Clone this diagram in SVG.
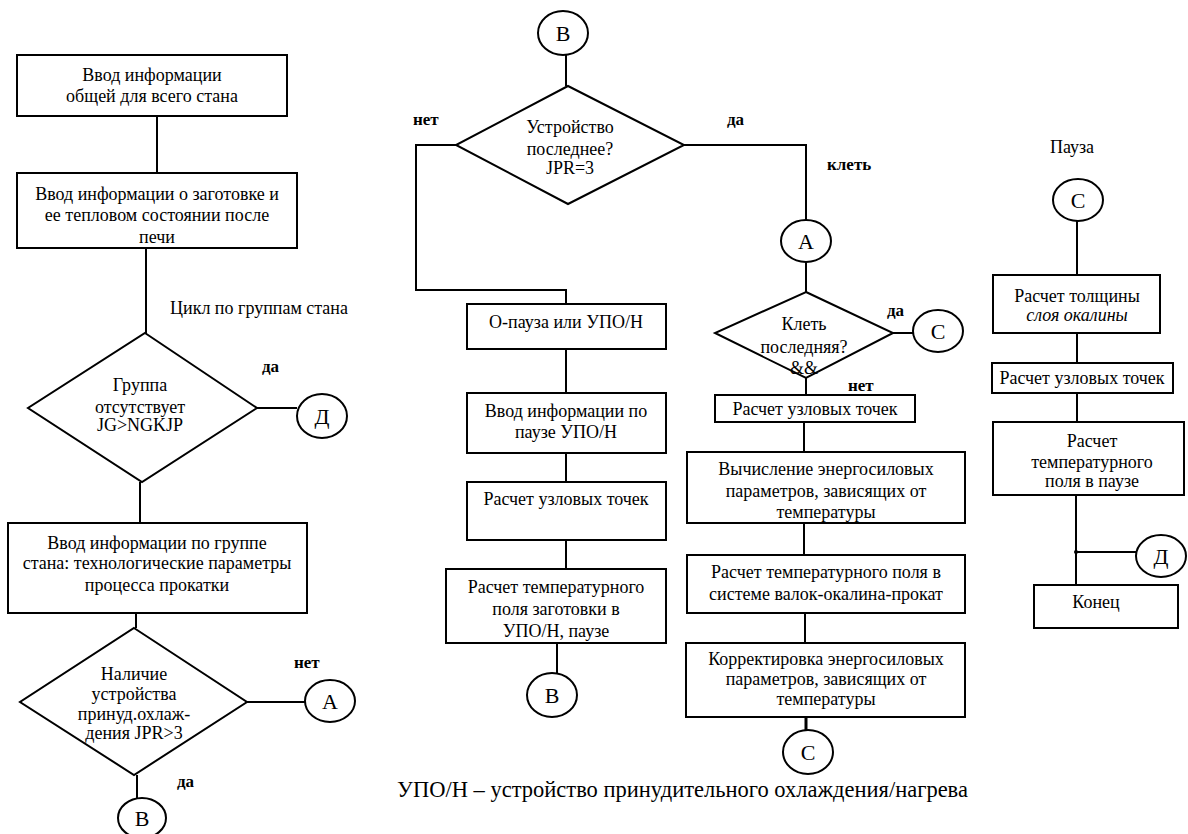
<svg xmlns="http://www.w3.org/2000/svg" width="1188" height="834" viewBox="0 0 1188 834" font-family="'Liberation Serif', 'DejaVu Serif', serif">
<style>
.b{fill:#fff;stroke:#000;stroke-width:2}
.c{fill:none;stroke:#000;stroke-width:2}
text{font-family:'Liberation Serif','DejaVu Serif',serif;fill:#000}
.t{font-size:18px;text-anchor:middle}
.l{font-size:17px;font-weight:bold}
.k{font-size:22px;text-anchor:middle}
</style>
<rect width="1188" height="834" fill="#fff"/>
<g id="connectors" class="c">
<line x1="157" y1="116" x2="157" y2="173"/>
<line x1="146" y1="248" x2="146" y2="333"/>
<line x1="257" y1="408" x2="297" y2="408"/>
<line x1="140" y1="482" x2="140" y2="523"/>
<line x1="136" y1="613" x2="136" y2="628"/>
<line x1="247" y1="702" x2="305" y2="702"/>
<line x1="137" y1="775" x2="137" y2="798"/>
<line x1="566" y1="55" x2="566" y2="86"/>
<polyline points="456,145 416,145 416,290 566,290 566,304"/>
<polyline points="684,145 806,145 806,220"/>
<line x1="806" y1="262" x2="806" y2="292"/>
<line x1="893" y1="333" x2="913" y2="333"/>
<line x1="806" y1="378" x2="806" y2="395"/>
<line x1="804" y1="422" x2="804" y2="452"/>
<line x1="804" y1="523" x2="804" y2="555"/>
<line x1="805" y1="613" x2="805" y2="643"/>
<line x1="806" y1="717" x2="806" y2="730" stroke-width="3"/>
<line x1="566" y1="349" x2="566" y2="393"/>
<line x1="566" y1="453" x2="566" y2="482"/>
<line x1="566" y1="540" x2="566" y2="569"/>
<line x1="557" y1="643" x2="557" y2="673"/>
<line x1="1077" y1="221" x2="1077" y2="275"/>
<line x1="1077" y1="333" x2="1077" y2="363"/>
<line x1="1077" y1="393" x2="1077" y2="422"/>
<line x1="1076" y1="495" x2="1076" y2="585"/>
<line x1="1076" y1="552" x2="1136" y2="552"/>
<circle cx="1076" cy="552" r="2" fill="#000" stroke="none"/>
</g>
<g id="labels">
<text x="170" y="314" style="font-size:18px">Цикл по группам стана</text>
<text class="l" x="262" y="372">да</text>
<text class="l" x="294" y="668">нет</text>
<text class="l" x="177" y="787">да</text>
<text class="l" x="413" y="125">нет</text>
<text class="l" x="727" y="125">да</text>
<text class="l" x="827" y="170">клеть</text>
<text class="l" x="887" y="316">да</text>
<text class="l" x="848" y="391">нет</text>
<text x="1072" y="153" style="font-size:18px;text-anchor:middle">Пауза</text>
<text x="397" y="797" style="font-size:22.5px">УПО/Н – устройство принудительного охлаждения/нагрева</text>
</g>
<g id="n1"><rect class="b" x="17" y="55" width="270" height="61"/>
<text class="t" x="152" y="81">Ввод информации</text><text class="t" x="152" y="102">общей для всего стана</text></g>
<g id="n2"><rect class="b" x="17" y="173" width="280" height="75"/>
<text class="t" x="157" y="200">Ввод информации о заготовке и</text><text class="t" x="157" y="221">ее тепловом состоянии после</text><text class="t" x="157" y="243">печи</text></g>
<g id="d1"><polygon class="b" points="145,333 257,408 142,482 28,408"/>
<text class="t" x="140" y="391">Группа</text><text class="t" x="140" y="413">отсутствует</text><text class="t" x="140" y="431">JG&gt;NGKJP</text></g>
<g id="cD1"><ellipse class="b" cx="322" cy="416" rx="25" ry="22"/><text class="k" x="322" y="424">Д</text></g>
<g id="n3"><rect class="b" x="8" y="523" width="299" height="90"/>
<text class="t" x="157" y="549">Ввод информации по группе</text><text class="t" x="157" y="569">стана: технологические параметры</text><text class="t" x="157" y="591">процесса прокатки</text></g>
<g id="d2"><polygon class="b" points="134,628 247,702 134,775 20,702"/>
<text class="t" x="134" y="680">Наличие</text><text class="t" x="134" y="700">устройства</text><text class="t" x="134" y="720">принуд.охлаж-</text><text class="t" x="134" y="739">дения JPR&gt;3</text></g>
<g id="cA1"><ellipse class="b" cx="330" cy="701" rx="25" ry="21"/><text class="k" x="330" y="709">A</text></g>
<g id="cB1"><ellipse class="b" cx="142" cy="818" rx="24" ry="20"/><text class="k" x="142" y="826">B</text></g>
<g id="cB2"><ellipse class="b" cx="563" cy="33" rx="25" ry="22"/><text class="k" x="563" y="41">B</text></g>
<g id="d3"><polygon class="b" points="568,86 684,145 568,204 456,145"/>
<text class="t" x="570" y="133">Устройство</text><text class="t" x="570" y="155">последнее?</text><text class="t" x="570" y="174">JPR=3</text></g>
<g id="cA2"><ellipse class="b" cx="806" cy="241" rx="25" ry="21"/><text class="k" x="806" y="249">A</text></g>
<g id="d4"><polygon class="b" points="806,292 893,333 806,378 715,333"/>
<text class="t" x="804" y="330">Клеть</text><text class="t" x="804" y="353">последняя?</text><text class="t" x="804" y="374">&amp;&amp;</text></g>
<g id="cC1"><ellipse class="b" cx="938" cy="331" rx="25" ry="21"/><text class="k" x="938" y="339">C</text></g>
<g id="n4"><rect class="b" x="715" y="395" width="200" height="27"/><text class="t" x="815" y="415">Расчет узловых точек</text></g>
<g id="n5"><rect class="b" x="687" y="452" width="278" height="71"/>
<text class="t" x="826" y="475">Вычисление энергосиловых</text><text class="t" x="826" y="497">параметров, зависящих от</text><text class="t" x="826" y="518">температуры</text></g>
<g id="n6"><rect class="b" x="687" y="555" width="278" height="58"/>
<text class="t" x="826" y="578">Расчет температурного поля в</text><text class="t" x="826" y="600">системе валок-окалина-прокат</text></g>
<g id="n7"><rect class="b" x="686" y="643" width="279" height="74"/>
<text class="t" x="826" y="665">Корректировка энергосиловых</text><text class="t" x="826" y="685">параметров, зависящих от</text><text class="t" x="826" y="705">температуры</text></g>
<g id="cC2"><ellipse class="b" cx="808" cy="752" rx="25" ry="22"/><text class="k" x="808" y="760">C</text></g>
<g id="n8"><rect class="b" x="467" y="304" width="199" height="45"/><text class="t" x="566" y="328">О-пауза или УПО/Н</text></g>
<g id="n9"><rect class="b" x="467" y="393" width="199" height="60"/>
<text class="t" x="566" y="417">Ввод информации по</text><text class="t" x="566" y="438">паузе УПО/Н</text></g>
<g id="n10"><rect class="b" x="467" y="482" width="199" height="58"/><text class="t" x="566" y="505">Расчет узловых точек</text></g>
<g id="n11"><rect class="b" x="446" y="569" width="220" height="74"/>
<text class="t" x="556" y="593">Расчет температурного</text><text class="t" x="556" y="615">поля заготовки в</text><text class="t" x="556" y="637">УПО/Н, паузе</text></g>
<g id="cB3"><ellipse class="b" cx="552" cy="695" rx="25" ry="22"/><text class="k" x="552" y="703">B</text></g>
<g id="cC3"><ellipse class="b" cx="1078" cy="200" rx="25" ry="21"/><text class="k" x="1078" y="208">C</text></g>
<g id="n12"><rect class="b" x="993" y="275" width="167" height="58"/>
<text class="t" x="1077" y="302">Расчет толщины</text><text class="t" x="1077" y="321" font-style="italic">слоя окалины</text></g>
<g id="n13"><rect class="b" x="992" y="363" width="181" height="30"/><text class="t" x="1082" y="384">Расчет узловых точек</text></g>
<g id="n14"><rect class="b" x="993" y="422" width="191" height="73"/>
<text class="t" x="1092" y="447">Расчет</text><text class="t" x="1092" y="468">температурного</text><text class="t" x="1092" y="487">поля в паузе</text></g>
<g id="cD2"><ellipse class="b" cx="1161" cy="556" rx="25" ry="21"/><text class="k" x="1161" y="564">Д</text></g>
<g id="n15"><rect class="b" x="1034" y="585" width="144" height="43"/><text class="t" x="1096" y="608">Конец</text></g>
</svg>
